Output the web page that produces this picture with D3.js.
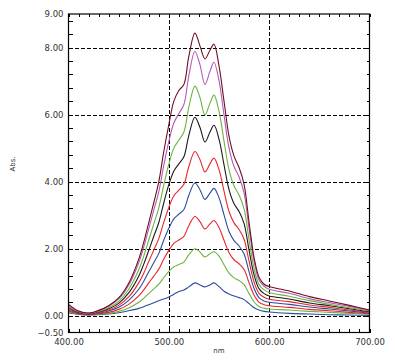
<!DOCTYPE html>
<html><head><meta charset="utf-8">
<script src="https://cdn.jsdelivr.net/npm/d3@7"></script>
<style>
html,body{margin:0;padding:0;background:#fff;}
svg{display:block;}
text{font-family:"DejaVu Sans",Verdana,sans-serif;}
</style></head>
<body>
<svg id="chart" width="395" height="360"></svg>
<script>
const wavelengths = [400,410,420,430,440,450,460,470,475,480,485,490,495,500,505,510,515,520,526,531,536,541,545,550,555,560,565,570,575,580,585,590,595,600,620,640,660,680,700];

const blue1   = [0.08,0.04,0.02,0.03,0.05,0.09,0.15,0.22,0.27,0.33,0.39,0.45,0.50,0.56,0.64,0.72,0.77,0.86,0.98,0.92,0.86,0.92,0.98,0.87,0.73,0.65,0.59,0.54,0.48,0.36,0.24,0.17,0.13,0.11,0.07,0.05,0.03,0.02,0.01];
const green2  = [0.11,0.05,0.03,0.05,0.07,0.13,0.23,0.40,0.52,0.66,0.80,0.94,1.14,1.32,1.46,1.53,1.60,1.82,2.00,1.90,1.75,1.85,1.91,1.78,1.52,1.27,1.13,1.05,0.93,0.66,0.41,0.27,0.22,0.20,0.17,0.13,0.10,0.07,0.04];
const red3    = [0.14,0.06,0.03,0.06,0.10,0.19,0.34,0.59,0.77,0.98,1.18,1.39,1.69,1.95,2.16,2.26,2.37,2.69,2.96,2.81,2.59,2.74,2.84,2.63,2.25,1.88,1.67,1.55,1.38,0.98,0.61,0.40,0.33,0.30,0.25,0.19,0.15,0.10,0.06];
const blue4   = [0.18,0.08,0.04,0.08,0.14,0.25,0.46,0.79,1.03,1.31,1.58,1.86,2.26,2.61,2.89,3.03,3.17,3.60,3.96,3.76,3.47,3.66,3.80,3.52,3.01,2.51,2.24,2.08,1.84,1.31,0.81,0.53,0.44,0.40,0.34,0.26,0.20,0.14,0.08];
const red5    = [0.21,0.09,0.05,0.10,0.17,0.31,0.56,0.98,1.27,1.62,1.96,2.30,2.79,3.23,3.58,3.75,3.92,4.46,4.90,4.66,4.29,4.53,4.70,4.36,3.72,3.11,2.77,2.57,2.28,1.62,1.00,0.66,0.55,0.49,0.42,0.32,0.25,0.17,0.10];
const black6  = [0.25,0.10,0.06,0.12,0.21,0.37,0.68,1.18,1.54,1.95,2.37,2.78,3.37,3.91,4.32,4.53,4.74,5.39,5.92,5.62,5.18,5.48,5.68,5.27,4.50,3.76,3.34,3.11,2.75,1.95,1.21,0.80,0.66,0.59,0.50,0.38,0.30,0.21,0.12];
const green7  = [0.28,0.12,0.07,0.13,0.24,0.43,0.79,1.37,1.78,2.26,2.74,3.22,3.90,4.52,5.00,5.24,5.48,6.23,6.85,6.51,5.99,6.34,6.58,6.10,5.21,4.35,3.87,3.60,3.19,2.26,1.40,0.92,0.77,0.69,0.58,0.45,0.34,0.24,0.14];
const purple8 = [0.32,0.13,0.07,0.15,0.28,0.50,0.91,1.58,2.05,2.60,3.15,3.70,4.49,5.20,5.75,6.03,6.30,7.17,7.88,7.49,6.90,7.29,7.56,7.01,5.99,5.00,4.45,4.14,3.66,2.60,1.62,1.06,0.88,0.79,0.67,0.51,0.39,0.28,0.16];
const maroon9 = [0.34,0.14,0.08,0.16,0.30,0.53,0.97,1.69,2.19,2.78,3.37,4.00,4.90,5.70,6.40,6.72,6.90,7.75,8.43,8.05,7.66,7.92,8.10,7.45,6.40,5.35,4.76,4.42,3.92,2.78,1.73,1.14,0.94,0.87,0.74,0.57,0.44,0.31,0.17];

const seriesList = [blue1, green2, red3, blue4, red5, black6, green7, purple8, maroon9];
const seriesColors = ["#2c4c9e","#6db33f","#e8262d","#2c4c9e","#e8262d","#1a1a1a","#6db33f","#b45ab4","#6e1020"];

const xTickLabels = [400, 500, 600, 700];
const yTickLabels = [-0.5, 0, 2, 4, 6, 8, 9];
const xGrid = [500, 600];
const yGrid = [0, 2, 4, 6, 8];
const xMinor = d3.range(400, 701, 10);
const yMinor = d3.range(0, 8.81, 0.4);

const L = 68.5, R = 369.5, T = 14, B = 332.5;
const svg = d3.select("#chart");
const x = d3.scaleLinear().domain([400, 700]).range([L, R]);
const y = d3.scaleLinear().domain([-0.5, 9]).range([B, T]);

// grid
const grid = svg.append("g").attr("stroke", "#000").attr("stroke-width", 1)
  .attr("stroke-dasharray", "4,2").attr("shape-rendering", "crispEdges");
grid.selectAll(".hg").data(yGrid).join("line")
  .attr("x1", L).attr("x2", R).attr("y1", d => Math.round(y(d)) + 0.5).attr("y2", d => Math.round(y(d)) + 0.5);
grid.selectAll(".vg").data(xGrid).join("line")
  .attr("y1", T).attr("y2", B).attr("x1", d => Math.round(x(d)) + 0.5).attr("x2", d => Math.round(x(d)) + 0.5);

// curves
svg.append("clipPath").attr("id", "clip").append("rect")
  .attr("x", L).attr("y", T).attr("width", R - L).attr("height", B - T);
const line = d3.line().x((d, i) => x(wavelengths[i])).y(d => y(d)).curve(d3.curveCatmullRom.alpha(0.5));
svg.append("g").attr("clip-path", "url(#clip)")
  .selectAll("path").data(seriesList).join("path")
  .attr("d", d => line(d)).attr("fill", "none")
  .attr("stroke", (d, i) => seriesColors[i]).attr("stroke-width", 1.1);

// minor ticks
const axStyle = g => { g.select(".domain").remove(); g.selectAll("line").attr("stroke", "#000").attr("shape-rendering", "crispEdges"); };
svg.append("g").attr("transform", `translate(0,${B})`)
  .call(d3.axisBottom(x).tickValues(xMinor).tickSize(-4).tickFormat("")).call(axStyle);
svg.append("g").attr("transform", `translate(0,${T})`)
  .call(d3.axisTop(x).tickValues(xMinor).tickSize(-3).tickFormat("")).call(axStyle);
svg.append("g").attr("transform", `translate(${L},0)`)
  .call(d3.axisLeft(y).tickValues(yMinor).tickSize(-4).tickFormat("")).call(axStyle);
svg.append("g").attr("transform", `translate(${R},0)`)
  .call(d3.axisRight(y).tickValues(yMinor).tickSize(-3).tickFormat("")).call(axStyle);

// frame
svg.append("rect").attr("x", L).attr("y", T).attr("width", R - L).attr("height", B - T)
  .attr("fill", "none").attr("stroke", "#000").attr("stroke-width", 1.2);

// labels
const fmt = d3.format(".2f");
const xl = svg.append("g").attr("transform", `translate(0,${B})`)
  .call(d3.axisBottom(x).tickValues(xTickLabels).tickSize(0).tickPadding(6).tickFormat(fmt));
xl.select(".domain").remove();
xl.selectAll("text").attr("font-size", 8.5).attr("fill", "#333").attr("font-family", "DejaVu Sans");
const yl = svg.append("g").attr("transform", `translate(${L},0)`)
  .call(d3.axisLeft(y).tickValues(yTickLabels).tickSize(0).tickPadding(5).tickFormat(fmt));
yl.select(".domain").remove();
yl.selectAll("text").attr("font-size", 8.5).attr("fill", "#333").attr("font-family", "DejaVu Sans");

svg.append("text").attr("x", (L + R) / 2).attr("y", 353).attr("text-anchor", "middle")
  .attr("font-size", 7).attr("fill", "#333").text("nm");
svg.append("text").attr("transform", "translate(15,164) rotate(-90)").attr("text-anchor", "middle")
  .attr("font-size", 7).attr("fill", "#333").text("Abs.");
</script>
</body></html>
